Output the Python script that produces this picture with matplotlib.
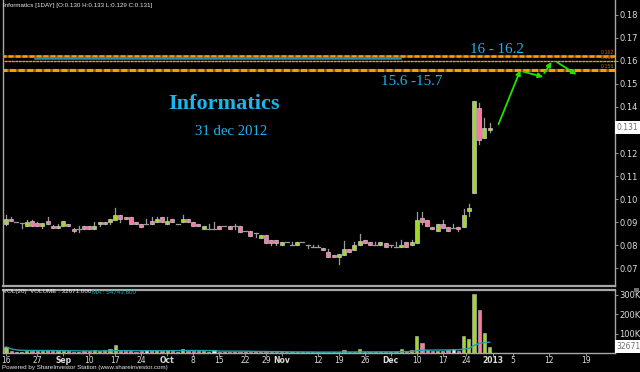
import matplotlib
matplotlib.use("Agg")
import matplotlib.pyplot as plt
from matplotlib.patches import Rectangle
import numpy as np
import pandas as pd

# ---------------- data ----------------
opens = [0.0890,0.0912,0.0901,0.0894,0.0883,0.0903,0.0894,0.0884,0.0903,0.0881,
         0.0872,0.0884,0.0891,0.0871,0.0871,0.0881,0.0881,0.0871,0.0890,0.0901,
         0.0901,0.0907,0.0930,0.0920,0.0920,0.0901,0.0891,0.0891,0.0903,0.0901,
         0.0922,0.0890,0.0913,0.0891,0.0900,0.0912,0.0901,0.0891,0.0871,0.0871,
         0.0871,0.0881,0.0881,0.0881,0.0881,0.0881,0.0861,0.0861,0.0851,0.0829,
         0.0842,0.0820,0.0820,0.0801,0.0812,0.0801,0.0801,0.0812,0.0801,0.0791,
         0.0791,0.0789,0.0770,0.0755,0.0749,0.0757,0.0782,0.0779,0.0800,0.0821,
         0.0812,0.0802,0.0802,0.0811,0.0802,0.0792,0.0790,0.0812,0.0802,0.0811,
         0.0918,0.0908,0.0880,0.0860,0.0891,0.0880,0.0872,0.0880,0.0878,0.0949,
         0.1028,0.1397,0.1267,0.1300]
highs = [0.0930,0.0920,0.0901,0.0894,0.0910,0.0910,0.0900,0.0894,0.0920,0.0885,
         0.0890,0.0903,0.0891,0.0875,0.0883,0.0881,0.0881,0.0901,0.0901,0.0901,
         0.0913,0.0961,0.0930,0.0920,0.0920,0.0901,0.0891,0.0912,0.0923,0.0920,
         0.0922,0.0920,0.0913,0.0891,0.0930,0.0912,0.0901,0.0893,0.0881,0.0890,
         0.0901,0.0881,0.0881,0.0881,0.0890,0.0881,0.0861,0.0861,0.0851,0.0842,
         0.0842,0.0820,0.0820,0.0812,0.0812,0.0812,0.0812,0.0812,0.0801,0.0801,
         0.0801,0.0789,0.0781,0.0755,0.0760,0.0817,0.0782,0.0814,0.0850,0.0821,
         0.0812,0.0812,0.0812,0.0811,0.0802,0.0812,0.0821,0.0812,0.0821,0.0942,
         0.0942,0.0908,0.0880,0.0891,0.0911,0.0880,0.0891,0.0880,0.0958,0.0980,
         0.1426,0.1419,0.1350,0.1330]
lows = [0.0888,0.0903,0.0901,0.0872,0.0883,0.0884,0.0884,0.0872,0.0893,0.0872,
        0.0872,0.0884,0.0881,0.0858,0.0858,0.0871,0.0871,0.0871,0.0881,0.0891,
        0.0890,0.0907,0.0899,0.0912,0.0890,0.0893,0.0880,0.0891,0.0893,0.0901,
        0.0900,0.0890,0.0900,0.0891,0.0900,0.0900,0.0881,0.0881,0.0871,0.0871,
        0.0871,0.0871,0.0881,0.0871,0.0871,0.0858,0.0861,0.0839,0.0833,0.0829,
        0.0810,0.0801,0.0801,0.0801,0.0812,0.0801,0.0801,0.0812,0.0788,0.0791,
        0.0791,0.0780,0.0748,0.0749,0.0719,0.0757,0.0768,0.0779,0.0800,0.0811,
        0.0802,0.0802,0.0802,0.0790,0.0792,0.0792,0.0790,0.0790,0.0802,0.0811,
        0.0892,0.0882,0.0870,0.0860,0.0872,0.0860,0.0872,0.0861,0.0878,0.0925,
        0.1028,0.1238,0.1267,0.1290]
closes = [0.0912,0.0903,0.0901,0.0894,0.0901,0.0884,0.0884,0.0894,0.0893,0.0872,
          0.0883,0.0903,0.0881,0.0861,0.0871,0.0871,0.0871,0.0881,0.0901,0.0891,
          0.0913,0.0930,0.0912,0.0912,0.0890,0.0893,0.0880,0.0891,0.0893,0.0913,
          0.0900,0.0903,0.0900,0.0891,0.0912,0.0900,0.0881,0.0881,0.0881,0.0871,
          0.0871,0.0871,0.0881,0.0871,0.0881,0.0858,0.0861,0.0839,0.0851,0.0842,
          0.0810,0.0810,0.0810,0.0812,0.0812,0.0801,0.0812,0.0812,0.0801,0.0791,
          0.0791,0.0780,0.0748,0.0749,0.0760,0.0782,0.0768,0.0802,0.0819,0.0811,
          0.0802,0.0802,0.0812,0.0790,0.0802,0.0792,0.0802,0.0790,0.0812,0.0908,
          0.0899,0.0882,0.0870,0.0891,0.0872,0.0860,0.0872,0.0870,0.0929,0.0960,
          0.1426,0.1258,0.1309,0.1310]
volumes_k = [32,10,6,6,12,12,12,12,14,12, 8,8,8,6,6,8,8,14,8,16,
             20,39,12,8,8,6,10,14,14,14, 8,14,8,6,20,8,8,8,8,6,
             14,6,6,6,6,6,4,6,4,6, 6,4,4,4,4,4,4,4,4,4,
             4,6,6,6,6,15,4,6,19,4, 4,4,6,6,4,6,19,8,17,88,
             53,15,12,12,12,14,22,8,87,72, 306,220,101,32.671]

tick_pos = [0, 6, 11, 16, 21, 26, 31, 36, 41, 46, 50, 53, 60, 64, 69, 74, 79, 84, 88.5, 93.7, 97.5, 104.4, 111.5]
tick_labels = ["16", "27", "Sep", "10", "17", "24", "Oct", "8", "15", "22", "29", "Nov", "12",
               "19", "26", "Dec", "10", "17", "24", "2013", "5", "12", "19"]
price_ticks = [0.07, 0.08, 0.09, 0.10, 0.11, 0.12, 0.14, 0.15, 0.16, 0.17, 0.18]
vol_ticks_k = [100, 200, 300]
levels = [0.162, 0.160, 0.156]
level_labels = ["0.162", "0.160", "0.156"]

# ---------------- figure ----------------
W, H = 640, 372
SMALL = ["Liberation Sans", "DejaVu Sans"]
fig = plt.figure(figsize=(6.4, 3.72), dpi=100, facecolor="black")

def fx(px):
    return px / W

def fy(py):
    return 1 - py / H

ax = fig.add_axes([fx(3), fy(286), fx(615) - fx(3), fy(0) - fy(286)], facecolor="black")
axv = fig.add_axes([fx(3), fy(353), fx(615) - fx(3), fy(290) - fy(353)], facecolor="black", sharex=ax)

GREEN = "#a4d62a"
PINK = "#ff75a6"
GREYW = "#9a9a9a"
EDGE = "#c8c8c8"
n = len(opens)
xs = np.arange(n)
bw = 0.76
for i in range(n):
    o, h, l, c = opens[i], highs[i], lows[i], closes[i]
    ax.plot([i, i], [l, h], color=GREYW, lw=0.9, zorder=2)
    if c > o:
        col = GREEN
    elif c < o:
        col = PINK
    else:
        col = None
    if col is None:
        ax.plot([i - bw / 2, i + bw / 2], [o, o], color=GREYW, lw=0.9, zorder=3)
    else:
        ax.add_patch(Rectangle((i - bw / 2, min(o, c)), bw, abs(c - o), facecolor=col,
                               edgecolor=EDGE, lw=0.5, zorder=3))

# horizontal levels (dashed orange over darker orange)
for lv, lw in zip(levels, [1.8, 0.9, 2.2]):
    ax.plot([-1, 120], [lv] * 2, color="#8a4a00", lw=lw, zorder=4)
    ax.plot([-1, 120], [lv] * 2, color="#ff9a00", lw=lw, ls=(0, (2.0, 0.8)), zorder=4)
ax.plot([5.6, 75.8], [0.1611, 0.1611], color="#1f8fb8", lw=1.8, zorder=5)
for lv, lb in zip(levels, level_labels):
    ax.text(116.9, lv + 0.0006, lb, color="#b86a00", fontsize=3.8, family=SMALL,
            ha="right", va="bottom", zorder=6)

# arrows
arrows = [((94.7, 0.1325), (98.9, 0.1560)),
          ((99.5, 0.1553), (103.3, 0.1531)),
          ((103.5, 0.1547), (104.9, 0.1596)),
          ((106.0, 0.1594), (109.7, 0.1541))]
for (x0, y0), (x1, y1) in arrows:
    ax.annotate("", xy=(x1, y1), xytext=(x0, y0),
                arrowprops=dict(arrowstyle="-|>", color="#22e000", lw=1.3,
                                mutation_scale=7, shrinkA=0, shrinkB=0), zorder=7)

ax.set_xlim(-0.58, 117.1)
ax.set_ylim(0.0622, 0.1865)

# volume
vols = np.array(volumes_k) * 1000
vcols = []
for o, c in zip(opens, closes):
    vcols.append(GREEN if c > o else (PINK if c < o else "#e8e8e8"))
axv.bar(xs, vols, width=0.62, color=vcols, edgecolor="#bdbdbd", lw=0.4, zorder=3)
ma = pd.Series(vols).rolling(20, min_periods=1).mean()
axv.plot(xs, ma, color="#1aa8a8", lw=1.0, zorder=4)
axv.set_ylim(0, 325000)

# axes styling
for a in (ax, axv):
    for s in a.spines.values():
        s.set_color("#a8a8a8")
        s.set_linewidth(1.0)
    a.yaxis.tick_right()
    a.tick_params(axis="y", colors="#a8a8a8", labelcolor="#dcdcdc", labelsize=6,
                  length=2, width=0.6, pad=1)
ax.spines["top"].set_visible(False)
ax.spines["bottom"].set_linewidth(1.6)
axv.spines["top"].set_linewidth(1.6)
ax.set_yticks(price_ticks)
ax.set_yticklabels(["%.2f" % v for v in price_ticks])
ax.tick_params(axis="x", bottom=False, labelbottom=False)
axv.set_yticks([v * 1000 for v in vol_ticks_k])
axv.set_yticklabels(["%dK" % v for v in vol_ticks_k])
axv.set_xticks(tick_pos)
axv.set_xticklabels(tick_labels)
axv.tick_params(axis="x", colors="#a8a8a8", labelcolor="#dcdcdc", labelsize=5.5, length=2,
                width=0.6, pad=0.5)
for t in axv.get_xticklabels():
    if t.get_text() in ("Sep", "Oct", "Nov", "Dec", "2013"):
        t.set_fontweight("bold")

# value boxes on right axis
ax.text(1.003, closes[-1], "%.3f" % closes[-1], transform=ax.get_yaxis_transform(),
        fontsize=5.5, color="#707070", va="center", ha="left",
        bbox=dict(boxstyle="square,pad=0.25", facecolor="white", edgecolor="none"))
axv.text(1.003, vols[-1], "%d" % round(vols[-1]), transform=axv.get_yaxis_transform(),
         fontsize=5.5, color="#707070", va="center", ha="left",
         bbox=dict(boxstyle="square,pad=0.25", facecolor="white", edgecolor="none"))

# header texts
fig.text(fx(3), fy(6), "Informatics [1DAY] [O:0.130 H:0.133 L:0.129 C:0.131]",
         color="#e8e8e8", fontsize=4.5, family=SMALL, ha="left", va="center")
fig.text(fx(3), fy(292), "VOL(20)  VOLUME : 32671.000", color="#e8e8e8", fontsize=4.5,
         family=SMALL, ha="left", va="center")
fig.text(fx(92), fy(292), "MA : 54743.600", color="#1ab0b0", fontsize=4.5, family=SMALL,
         ha="left", va="center")
fig.text(fx(2), fy(368), "Powered by ShareInvestor Station (www.shareinvestor.com)",
         color="#e8e8e8", fontsize=4.5, family=SMALL, ha="left", va="center")
fig.patches.append(Rectangle((fx(634), fy(292)), fx(5), 4 / H,
                             transform=fig.transFigure, facecolor="#707070", edgecolor="none"))

# annotations
CYAN = "#1ab6ee"
serif = "Liberation Serif"
fig.text(fx(168), fy(109), "Informatics", color=CYAN, fontsize=16, fontweight="bold",
         family=serif, ha="left", va="baseline")
fig.text(fx(195), fy(135), "31 dec 2012", color=CYAN, fontsize=10.6, family=serif,
         ha="left", va="baseline")
fig.text(fx(470), fy(52.7), "16 - 16.2", color=CYAN, fontsize=10.8, family=serif,
         ha="left", va="baseline")
fig.text(fx(381), fy(85), "15.6 -15.7", color=CYAN, fontsize=10.8, family=serif,
         ha="left", va="baseline")

fig.savefig("out.png", dpi=100, facecolor="black")
